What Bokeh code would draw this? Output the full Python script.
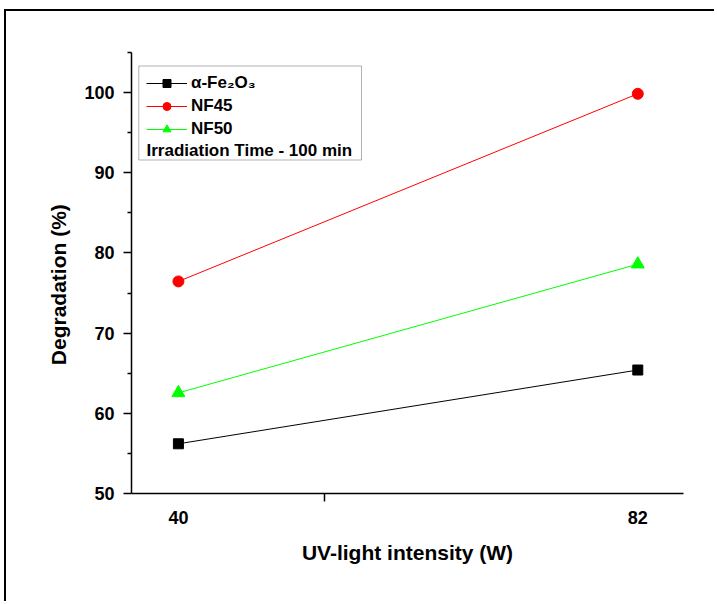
from bokeh.plotting import figure
from bokeh.models import Range1d, FixedTicker, Legend, LegendItem, Label, BoxAnnotation
from bokeh.embed import file_html
from bokeh.resources import INLINE

# ---- data ----
intensity = [40, 82]
fe2o3 = [56.2, 65.4]
nf45 = [76.45, 99.85]
nf50 = [62.55, 78.6]
x_ticks = [40, 82]
y_ticks = [50, 60, 70, 80, 90, 100]
x_label = "UV-light intensity (W)"
y_label = "Degradation (%)"
series_names = ["α-Fe₂O₃", "NF45", "NF50"]
note = "Irradiation Time - 100 min"

# ---- layout ----
X0, X1 = 35.71, 86.18
Y0, Y1 = 50, 105
W, H = 710, 592
ML, MT = 125, 41
FW, FH = 552, 441
MR = W - ML - FW
MB = H - MT - FH
FONT = "Liberation Sans"


def dx(px):
    return X0 + px * (X1 - X0) / FW


def dy(py):
    return Y1 - py * (Y1 - Y0) / FH


p = figure(width=W, height=H, output_backend="svg", toolbar_location=None,
           x_range=Range1d(X0, X1), y_range=Range1d(Y0, Y1),
           min_border_left=ML, min_border_right=MR,
           min_border_top=MT, min_border_bottom=MB)
p.styles = {"border-top": "2px solid black", "border-left": "2px solid black",
            "margin-left": "4px", "margin-top": "9px"}
p.outline_line_color = None
p.xgrid.visible = False
p.ygrid.visible = False
p.background_fill_color = "white"
p.border_fill_color = "white"

# axes
for ax in (p.xaxis[0], p.yaxis[0]):
    ax.axis_line_width = 1.5
    ax.major_tick_line_width = 1.5
    ax.minor_tick_line_width = 1.5
    ax.major_label_text_font = FONT
    ax.major_label_text_font_style = "bold"
    ax.major_label_text_font_size = "18px"
    ax.major_label_text_color = "black"
    ax.axis_label_text_font = FONT
    ax.axis_label_text_font_style = "bold"
    ax.axis_label_text_font_size = "21px"
    ax.axis_label_text_color = "black"

p.yaxis.ticker = FixedTicker(ticks=y_ticks, minor_ticks=[t + 5 for t in y_ticks])
p.yaxis.major_tick_out = 8
p.yaxis.major_tick_in = 0
p.yaxis.minor_tick_out = 4
p.yaxis.minor_tick_in = 0
p.yaxis.major_label_standoff = 9
# trailing no-break spaces push the title slightly below the frame centre, as in the reference
p.yaxis.axis_label = y_label + "\u00a0" * 4
p.yaxis.axis_label_standoff = 11

p.xaxis.ticker = FixedTicker(ticks=x_ticks, minor_ticks=[53.4])
p.xaxis.major_tick_out = 0
p.xaxis.major_tick_in = 0
p.xaxis.major_tick_line_color = None
p.xaxis.minor_tick_out = 8
p.xaxis.minor_tick_in = 0
p.xaxis.major_label_standoff = 9
p.xaxis.axis_label = x_label
p.xaxis.axis_label_standoff = 14

# series
colors = ["black", "red", "#00FF00"]
markers = ["square", "circle", "triangle"]
sizes = [10, 11, 13]
items = []
for name, vals, c, m, s in zip(series_names, [fe2o3, nf45, nf50], colors, markers, sizes):
    ln = p.line(intensity, vals, line_color=c, line_width=1)
    sc = p.scatter(intensity, vals, marker=m, size=s, fill_color=c, line_color=c)
    items.append(LegendItem(label=name, renderers=[ln, sc]))

# legend frame box
box = BoxAnnotation(left=dx(7.3), right=dx(230), top=dy(13.5), bottom=dy(107.5),
                    fill_color="white", fill_alpha=1, line_color="black", line_width=1)
p.add_layout(box)

legend = Legend(items=items, location=(15, FH - 86.5), padding=0, spacing=3,
                glyph_width=41, glyph_height=20, label_height=20, label_standoff=4,
                border_line_color=None, background_fill_alpha=0,
                label_text_font=FONT, label_text_font_style="bold",
                label_text_font_size="17px", label_text_color="black")
p.add_layout(legend)

p.add_layout(Label(x=dx(15), y=dy(97.5), text=note, text_baseline="middle",
                   text_font=FONT, text_font_style="bold", text_font_size="17px",
                   text_color="black"))

open("out.html", "w").write(file_html(p, INLINE))
